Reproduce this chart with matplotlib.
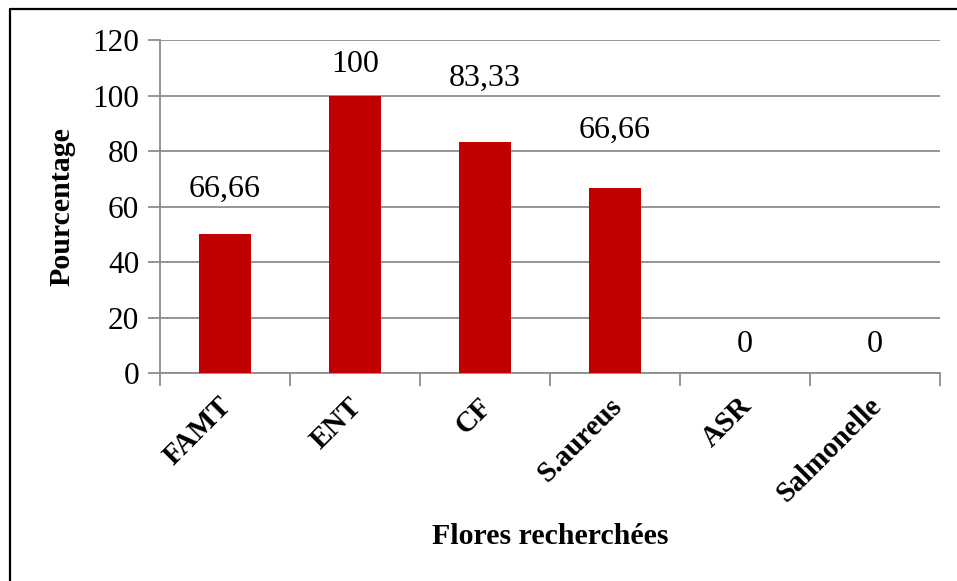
import matplotlib.pyplot as plt
from matplotlib.lines import Line2D
from matplotlib.transforms import ScaledTranslation

# Pourcentage de positivité par flore recherchée
flores = ['FAMT', 'ENT', 'CF', 'S.aureus', 'ASR', 'Salmonelle']
pourcentages = [50, 100, 83.33, 66.66, 0, 0]
etiquettes = ['66,66', '100', '83,33', '66,66', '0', '0']
# hauteur des étiquettes au-dessus des barres
decalages = [16.3, 11.3, 23, 20.8, 10.2, 10.2]

plt.rcParams['font.family'] = 'Liberation Serif'

fig = plt.figure(figsize=(9.57, 5.81), dpi=100)
ax = fig.add_axes([0.1672, 0.358, 0.815, 0.573])

x = range(len(flores))
ax.bar(x, pourcentages, width=0.4, color='#C00000', zorder=3)

for i, (v, lab, d) in enumerate(zip(pourcentages, etiquettes, decalages)):
    ax.text(i, v + d, lab, ha='center', va='center', fontsize=23)

grid_col = '#8c8c8c'
ax.set_ylim(0, 120)
ax.set_yticks(range(0, 121, 20))
ax.set_xlim(-0.5, len(flores) - 0.5)
ax.grid(axis='y', color=grid_col, linewidth=1.3, zorder=0)
ax.set_axisbelow(True)

for s in ['top', 'right']:
    ax.spines[s].set_visible(False)
for s in ['left', 'bottom']:
    ax.spines[s].set_color(grid_col)
    ax.spines[s].set_linewidth(1.3)

ax.tick_params(axis='y', length=9, width=1.3, color=grid_col, labelsize=22.5, pad=6)
ax.set_xticks(list(x))
ax.set_xticklabels(flores, rotation=45, ha='right', rotation_mode='anchor',
                   fontsize=21, fontweight='bold')
ax.tick_params(axis='x', which='major', length=0, pad=14)
shift = ScaledTranslation(-7 / 100, 0, fig.dpi_scale_trans)
for t in ax.get_xticklabels():
    t.set_transform(t.get_transform() + shift)
ax.set_xticks([i - 0.5 for i in range(len(flores) + 1)], minor=True)
ax.tick_params(axis='x', which='minor', length=9, width=1.3, color=grid_col)

ax.set_ylabel('Pourcentage', fontsize=21.5, fontweight='bold', labelpad=12)
fig.text(550 / 957, 1 - 536 / 581, 'Flores recherchées', ha='center', va='center',
         fontsize=21.5, fontweight='bold')

# cadre autour du graphique
fig.add_artist(Line2D([9.5 / 957, 9.5 / 957, 1], [0, 1 - 8.5 / 581, 1 - 8.5 / 581],
                      transform=fig.transFigure, color='black', linewidth=1.6))

fig.savefig('out.png', dpi=100)
